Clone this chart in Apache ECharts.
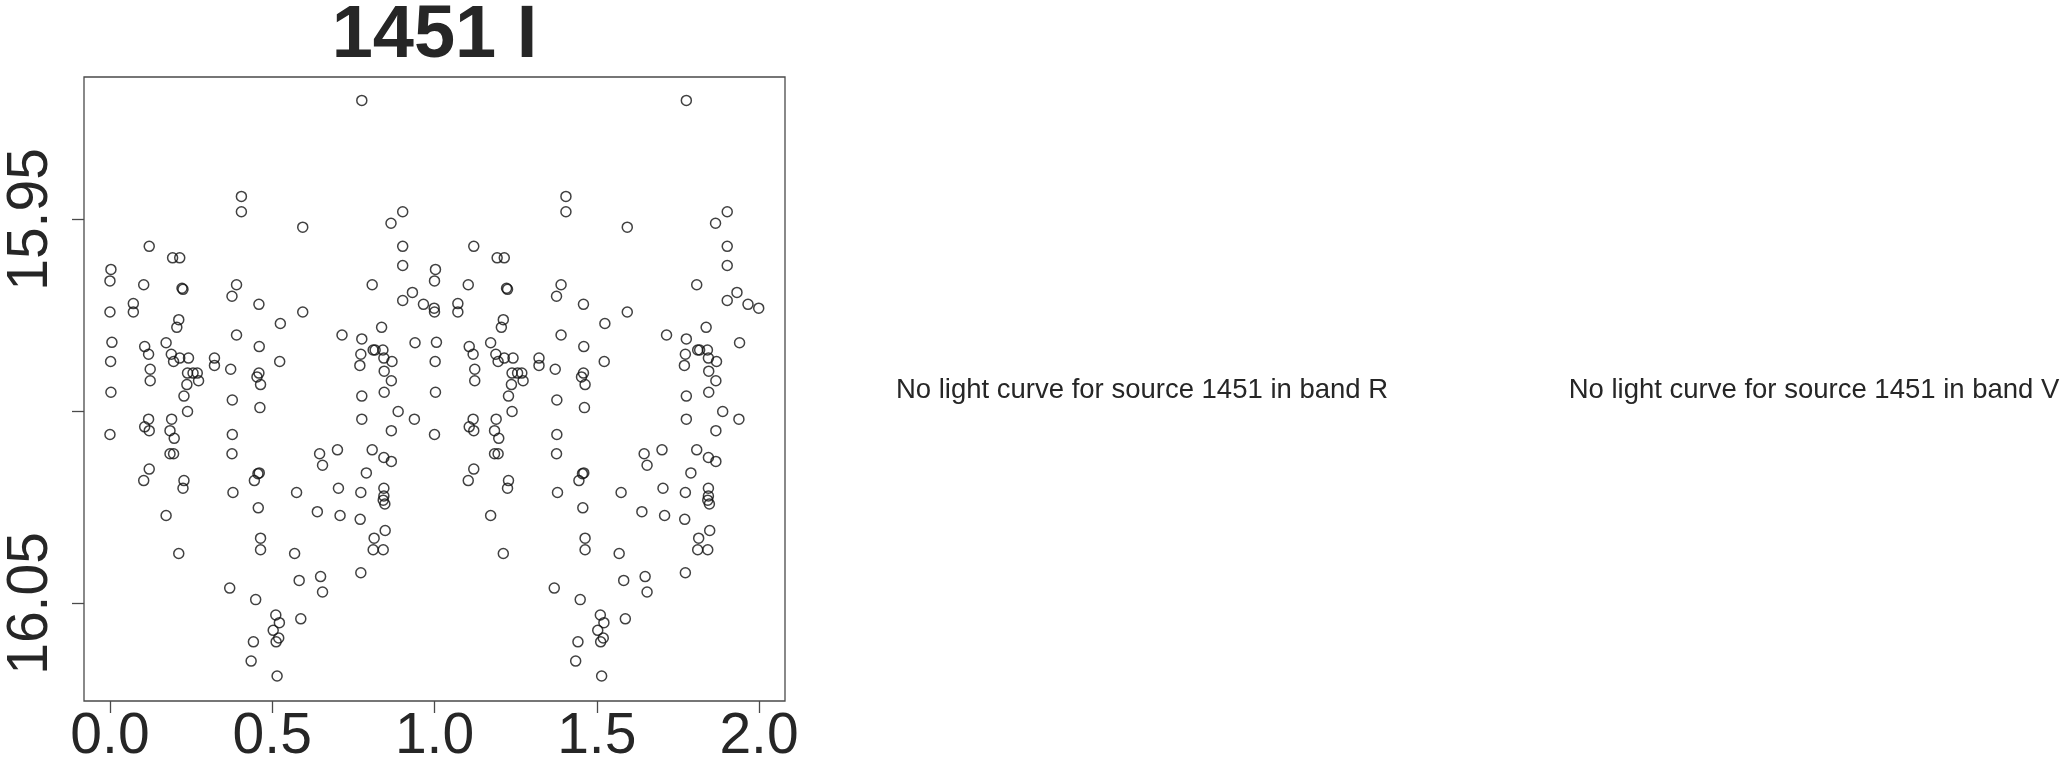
<!DOCTYPE html>
<html>
<head>
<meta charset="utf-8">
<script src="https://cdn.jsdelivr.net/npm/echarts@6/dist/echarts.min.js"></script>
<style>
html,body{margin:0;padding:0;background:#fff;}
#chart{width:2064px;height:766px;}
</style>
</head>
<body>
<div id="chart"></div>
<script>
// Phase-folded light curve, source 1451, band I (each point drawn at phase and phase+1)
const phase = [
0.003,0.000,0.000,0.006,0.002,0.003,0.000,
0.072,0.072,0.104,0.121,0.107,0.119,0.124,0.124,0.119,0.107,0.121,0.121,0.104,
0.193,0.215,0.222,0.225,0.212,0.206,0.173,0.189,0.215,0.196,0.242,0.239,0.237,0.228,0.239,
0.190,0.185,0.198,0.185,0.196,0.228,0.225,0.173,0.212,
0.256,0.269,0.273,0.322,0.322,
0.405,0.405,0.390,0.376,0.390,0.372,0.377,0.377,0.376,0.379,0.369,
0.459,0.460,0.459,0.453,0.464,0.462,0.460,0.456,0.445,0.457,0.464,0.464,0.449,0.442,0.435,
0.525,0.523,0.511,0.522,0.503,0.520,0.512,0.515,
0.594,0.594,0.575,0.569,0.583,0.588,
0.646,0.655,0.639,0.649,0.655,
0.715,0.701,0.704,0.709,
0.776,0.773,0.770,0.776,0.776,0.790,0.773,0.771,0.773,0.776,
0.808,0.811,0.817,0.837,0.841,0.844,0.869,0.845,0.867,0.845,0.867,0.808,0.844,0.867,
0.844,0.844,0.842,0.847,0.814,0.811,0.842,0.848,
0.866,0.902,0.902,0.902,0.902,0.888,0.938,0.932,0.940,0.966,0.999
];
const mag = [
15.9630,15.9660,15.9741,15.9820,15.9870,15.9950,16.0060,
15.9719,15.9741,15.9670,15.9570,15.9831,15.9851,15.9890,15.9920,16.0020,16.0040,16.0050,16.0150,16.0180,
15.9600,15.9600,15.9679,15.9682,15.9761,15.9781,15.9821,15.9851,15.9861,15.9870,15.9861,15.9900,15.9930,15.9960,16.0000,
16.0020,16.0050,16.0070,16.0110,16.0110,16.0180,16.0200,16.0271,16.0370,
15.9900,15.9900,15.9920,15.9861,15.9880,
15.9440,15.9480,15.9670,15.9700,15.9801,15.9890,15.9970,16.0060,16.0110,16.0211,16.0460,
15.9721,15.9831,15.9900,15.9910,15.9930,15.9990,16.0160,16.0162,16.0180,16.0251,16.0330,16.0360,16.0490,16.0600,16.0650,
15.9771,15.9870,16.0530,16.0550,16.0570,16.0590,16.0600,16.0689,
15.9520,15.9741,16.0211,16.0370,16.0440,16.0540,
16.0110,16.0140,16.0261,16.0430,16.0470,
15.9801,16.0100,16.0200,16.0271,
15.9811,15.9851,15.9880,15.9960,16.0020,16.0160,16.0211,16.0281,16.0420,15.9190,
15.9670,15.9840,15.9840,15.9781,15.9840,15.9861,15.9870,15.9895,15.9920,15.9950,16.0050,16.0100,16.0120,16.0130,
16.0200,16.0220,16.0231,16.0241,16.0330,16.0360,16.0360,16.0310,
15.9510,15.9480,15.9570,15.9620,15.9711,16.0000,16.0020,15.9690,15.9821,15.9721,15.9731
];
const xTicks = [0.0, 0.5, 1.0, 1.5, 2.0];
const yTicks = [15.95, 16.00, 16.05];
const yTickLabels = [15.95, 16.05];
const titleText = '1451 I';
const noCurveR = 'No light curve for source 1451 in band R';
const noCurveV = 'No light curve for source 1451 in band V';

const points = [];
for (let i = 0; i < phase.length; i++) {
  points.push([phase[i], mag[i]]);
  points.push([phase[i] + 1, mag[i]]);
}

const FONT = '"Liberation Sans", Arial, Helvetica, sans-serif';
const GL = 84, GT = 77, GW = 701, GH = 631;

const chart = echarts.init(document.getElementById('chart'), null, {renderer: 'canvas'});
chart.setOption({
  animation: false,
  backgroundColor: '#ffffff',
  grid: {left: GL, top: GT, width: GW, height: GH, show: true, borderColor: '#4a4a4a', borderWidth: 1.3, backgroundColor: 'transparent'},
  xAxis: {
    type: 'value', min: -0.08, max: 2.08,
    splitLine: {show: false},
    axisLine: {show: false, onZero: false},
    axisTick: {show: true, inside: false, length: 12, customValues: xTicks, lineStyle: {color: '#4a4a4a', width: 1.3}},
    axisLabel: {show: true, customValues: xTicks, margin: 8, fontSize: 57, fontFamily: FONT, color: '#262626',
      formatter: v => Number(v).toFixed(1)}
  },
  yAxis: {
    type: 'value', inverse: true, min: 15.9129, max: 16.0754,
    splitLine: {show: false},
    axisLine: {show: false, onZero: false},
    axisTick: {show: true, inside: false, length: 12, customValues: yTicks, lineStyle: {color: '#4a4a4a', width: 1.3}},
    axisLabel: {show: true, customValues: yTickLabels, rotate: 90, margin: 24, fontSize: 57, fontFamily: FONT, color: '#262626',
      formatter: v => Number(v).toFixed(2)}
  },
  series: [{
    type: 'scatter',
    data: points,
    symbol: 'circle',
    symbolSize: 10,
    itemStyle: {color: 'rgba(0,0,0,0)', borderColor: '#111', borderWidth: 1.5},
    emphasis: {disabled: true},
    silent: true
  }],
  graphic: [
    {type: 'text', x: GL + GW / 2, y: 0, silent: true,
      style: {text: titleText, font: 'bold 74px ' + FONT, fill: '#262626', textAlign: 'center', textVerticalAlign: 'top'}},
    {type: 'text', x: 1142, y: 390, silent: true,
      style: {text: noCurveR, font: '27.5px ' + FONT, fill: '#262626', textAlign: 'center', textVerticalAlign: 'middle'}},
    {type: 'text', x: 1814, y: 390, silent: true,
      style: {text: noCurveV, font: '27.5px ' + FONT, fill: '#262626', textAlign: 'center', textVerticalAlign: 'middle'}}
  ]
});
</script>
</body>
</html>
